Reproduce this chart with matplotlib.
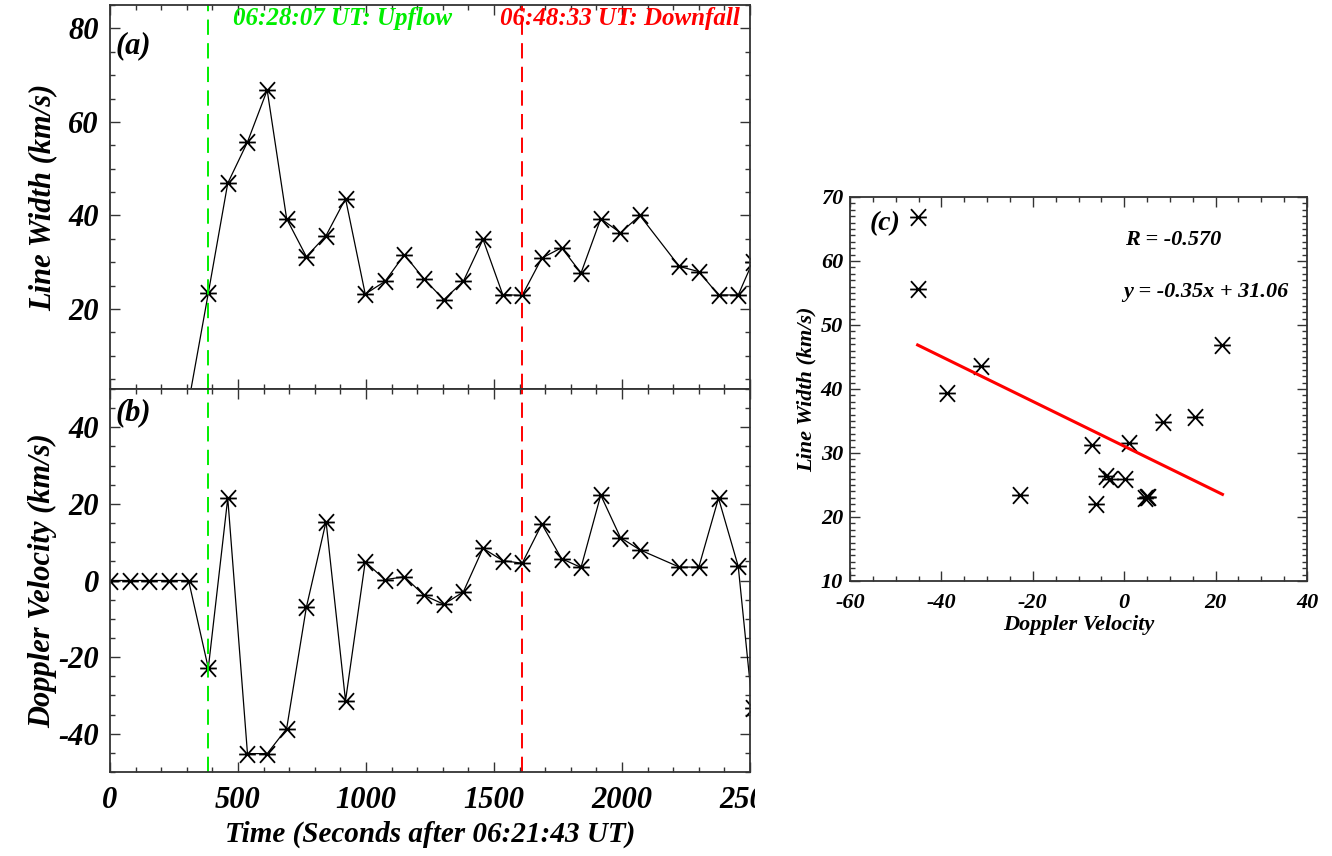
import matplotlib
matplotlib.use("Agg")
import matplotlib.pyplot as plt
from matplotlib.path import Path
from matplotlib.ticker import MultipleLocator
from matplotlib.transforms import Bbox
import numpy as np

plt.rcParams['font.family'] = ['Liberation Serif', 'DejaVu Serif']
plt.rcParams['lines.scale_dashes'] = False
plt.rcParams['axes.unicode_minus'] = False

# ---- data ----
times = [0, 77, 153, 230, 307, 384, 460, 537, 614, 690, 767, 844, 920, 997,
         1074, 1150, 1227, 1304, 1380, 1457, 1534, 1610, 1687, 1764, 1840,
         1917, 1994, 2070, 2224, 2300, 2377, 2454, 2510]
line_width = [0, 0, 0, 0, 0, 23.4, 46.9, 55.7, 66.8, 39.3, 31.2, 35.7, 43.6,
              23.2, 25.9, 31.6, 26.4, 22.0, 25.9, 34.9, 23.1, 22.9, 30.9, 33.1,
              27.7, 39.3, 36.3, 40.0, 29.1, 28.0, 23.0, 23.0, 30.0]
doppler = [0, 0, 0, 0, 0, -22.9, 21.5, -45.2, -45.2, -38.7, -7.0, 15.4, -31.4,
           4.9, 0.2, 1.0, -3.9, -6.2, -3.0, 8.4, 5.2, 4.5, 14.7, 5.7, 3.4,
           22.3, 11.2, 8.0, 3.5, 3.5, 21.5, 3.7, -33.3]
t_upflow = 384      # 06:28:07 UT
t_downfall = 1610   # 06:48:33 UT
fit_slope = -0.35
fit_intercept = 31.06
fit_R = -0.570

times = np.array(times, float)
line_width = np.array(line_width, float)
doppler = np.array(doppler, float)
sel = (times >= t_upflow) & (times <= t_downfall)

# asterisk marker (IDL psym=2 look)
ast = Path([(-1, 0), (1, 0), (-0.9, -1), (0.9, 1), (-0.9, 1), (0.9, -1)],
           [Path.MOVETO, Path.LINETO] * 3)

W, H = 1332, 856
fig = plt.figure(figsize=(W / 100, H / 100), dpi=100)

def px_axes(l, t, r, b):
    return fig.add_axes([l / W, 1 - b / H, (r - l) / W, (b - t) / H])

ax_a = px_axes(110, 5, 750, 389)
ax_b = px_axes(110, 389, 750, 772)
ax_c = px_axes(850, 197, 1307, 581)

big = dict(fontsize=22, fontweight='bold', fontstyle='italic')

def style(ax, maj_len=7, min_len=3.5, lsize=22):
    for s in ax.spines.values():
        s.set_linewidth(1.3)
        s.set_color('#333333')
    ax.tick_params(which='both', direction='in', top=True, right=True,
                   color='#333333', width=1.0)
    ax.tick_params(which='major', length=maj_len)
    ax.tick_params(which='minor', length=min_len)
    for lab in ax.get_xticklabels() + ax.get_yticklabels():
        lab.set_fontsize(lsize)
        lab.set_fontweight('bold')
        lab.set_fontstyle('italic')

mk = dict(marker=ast, markersize=12, markeredgewidth=1.3,
          markeredgecolor='black', markerfacecolor='none')

# ---- panel (a) ----
ax_a.plot(times, line_width, color='black', lw=0.9, **mk)
ax_a.set_xlim(0, 2500)
ax_a.set_ylim(2.9, 85)
ax_a.xaxis.set_major_locator(MultipleLocator(500))
ax_a.xaxis.set_minor_locator(MultipleLocator(100))
ax_a.yaxis.set_major_locator(MultipleLocator(20))
ax_a.yaxis.set_minor_locator(MultipleLocator(5))
ax_a.set_ylabel('Line Width (km/s)', **big)
style(ax_a)
ax_a.tick_params(axis='y', pad=8)
ax_a.set_xticklabels([])
ax_a.text(0.008, 0.895, '(a)', transform=ax_a.transAxes, ha='left', va='center', **big)
ax_a.text(480, 0.966, '06:28:07 UT: Upflow', transform=ax_a.get_xaxis_transform(),
          color='#00ee00', fontsize=18, fontweight='bold', fontstyle='italic',
          ha='left', va='center')
ax_a.text(1523, 0.966, '06:48:33 UT: Downfall', transform=ax_a.get_xaxis_transform(),
          color='#ff0000', fontsize=18, fontweight='bold', fontstyle='italic',
          ha='left', va='center')

# ---- panel (b) ----
ax_b.plot(times, doppler, color='black', lw=0.9, **mk)
ax_b.set_xlim(0, 2500)
ax_b.set_ylim(-50, 50)
ax_b.xaxis.set_major_locator(MultipleLocator(500))
ax_b.xaxis.set_minor_locator(MultipleLocator(100))
ax_b.yaxis.set_major_locator(MultipleLocator(20))
ax_b.yaxis.set_minor_locator(MultipleLocator(5))
ax_b.set_ylabel('Doppler Velocity (km/s)', **big)
ax_b.set_xlabel('Time (Seconds after 06:21:43 UT)', labelpad=4, fontsize=21,
                fontweight='bold', fontstyle='italic')
style(ax_b)
ax_b.tick_params(axis='y', pad=8)
ax_b.tick_params(axis='x', pad=10)
ax_b.text(0.008, 0.937, '(b)', transform=ax_b.transAxes, ha='left', va='center', **big)

for ax in (ax_a, ax_b):
    ax.axvline(t_upflow, color='#00ee00', lw=1.4, dashes=(11, 6))
    ax.axvline(t_downfall, color='#ff0000', lw=1.4, dashes=(11, 6))

ax_a.yaxis.set_label_coords(-0.082, 0.5)
ax_b.yaxis.set_label_coords(-0.082, 0.5)

# clip the last x tick label at the right edge like the reference
fig.canvas.draw()
clip = Bbox.from_extents(0, 0, 755, H)
for lab in ax_b.get_xticklabels():
    lab.set_clip_box(clip)
    lab.set_clip_on(True)

# ---- panel (c) ----
ax_c.plot(doppler[sel], line_width[sel], linestyle='none', **mk)
xf = np.array([doppler[sel].min(), doppler[sel].max()])
ax_c.plot(xf, fit_slope * xf + fit_intercept, color='#ff0000', lw=2.2)
ax_c.set_xlim(-60, 40)
ax_c.set_ylim(10, 70)
ax_c.xaxis.set_major_locator(MultipleLocator(20))
ax_c.xaxis.set_minor_locator(MultipleLocator(5))
ax_c.yaxis.set_major_locator(MultipleLocator(10))
ax_c.yaxis.set_minor_locator(MultipleLocator(1))
style(ax_c, maj_len=7, min_len=3.5, lsize=16)
ax_c.tick_params(axis='x', pad=9)
ax_c.tick_params(axis='y', pad=5)
ax_c.set_xlabel('Doppler Velocity', fontsize=16, fontweight='bold', fontstyle='italic', labelpad=1)
ax_c.set_ylabel('Line Width (km/s)', fontsize=16, fontweight='bold', fontstyle='italic', labelpad=3)
ax_c.text(0.044, 0.93, '(c)', transform=ax_c.transAxes, ha='left', va='center',
          fontsize=20, fontweight='bold', fontstyle='italic')
ax_c.text(0.2, 63.3, 'R = %.3f' % fit_R, ha='left', va='center',
          fontsize=16, fontweight='bold', fontstyle='italic')
ax_c.text(-0.3, 55.2, 'y = %.2fx + %.2f' % (fit_slope, fit_intercept), ha='left', va='center',
          fontsize=16, fontweight='bold', fontstyle='italic')

fig.savefig('out.png', dpi=100)
